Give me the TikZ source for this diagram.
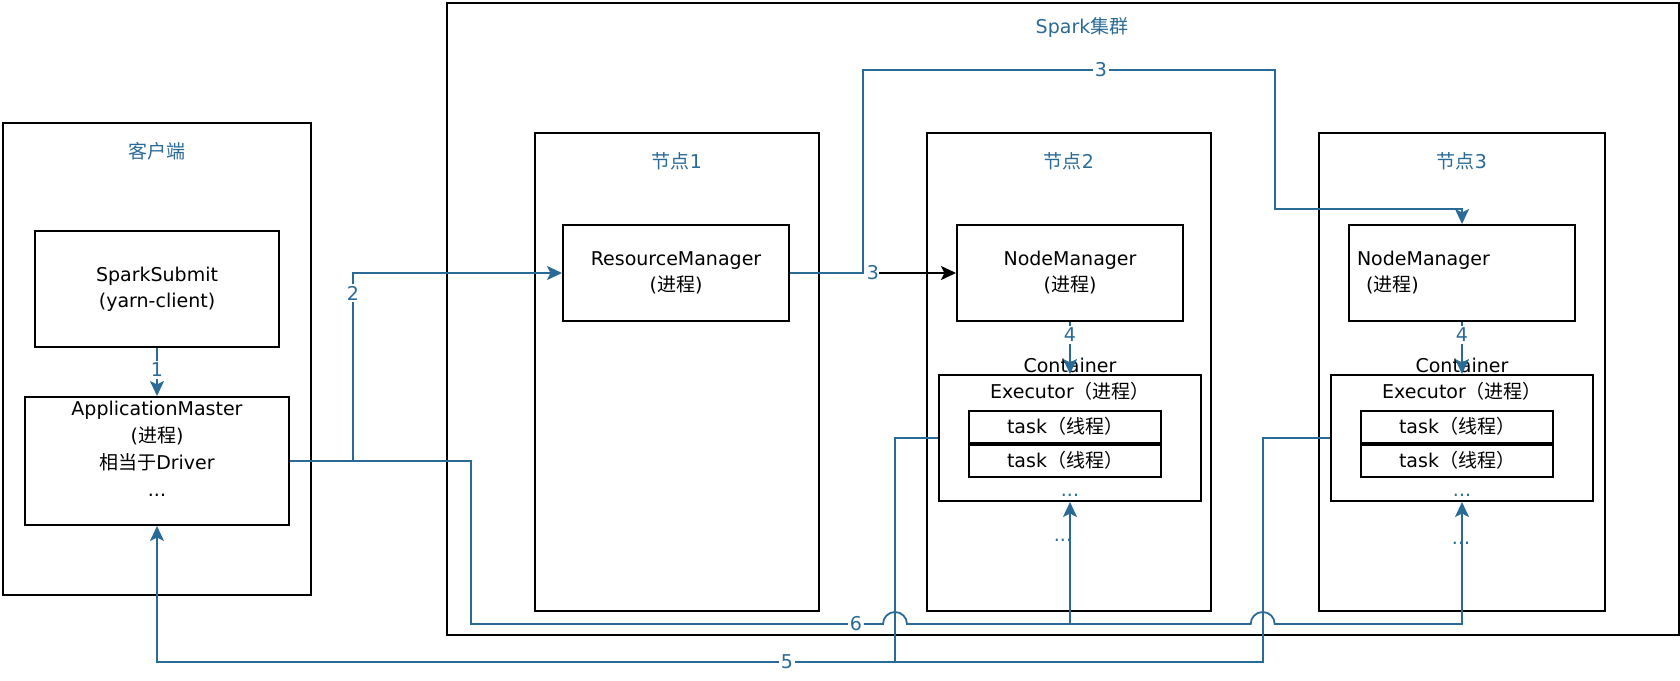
\documentclass[tikz,border=0pt]{standalone}
\usepackage{fontspec}
\setmainfont{DejaVu Sans}
\newfontfamily\cjk{Noto Sans CJK SC}
\newcommand\zh[1]{{\cjk #1}}
\usetikzlibrary{arrows.meta}
\definecolor{spblue}{RGB}{42,106,150}
\tikzset{
  box/.style={draw, line width=2pt, inner sep=0pt, align=center},
  lbl/.style={text=spblue},
  num/.style={text=spblue, fill=white, inner sep=1.5pt},
  flow/.style={draw=spblue, line width=1.8pt},
  arw/.style={-{Stealth[length=15pt,width=14pt,inset=3.5pt]}}
}
\begin{document}
\begin{tikzpicture}[x=1pt, y=-1pt, every node/.style={font=\fontsize{19}{26}\selectfont}]
  \useasboundingbox (0,0) rectangle (1680,680);
  % client and cluster
  \node[box, minimum width=308pt, minimum height=472pt] (client) at (157,359) {};
  \node[box, minimum width=1232pt, minimum height=632pt] (cluster) at (1063,319) {};
  \node[lbl] (clientlbl) at (157,151) {\zh{客户端}};
  \node[lbl] (clusterlbl) at (1082,27) {Spark\zh{集群}};
  % worker nodes
  \node[box, minimum width=284pt, minimum height=478pt] (node1) at (677,372) {};
  \node[box, minimum width=284pt, minimum height=478pt] (node2) at (1069,372) {};
  \node[box, minimum width=286pt, minimum height=478pt] (node3) at (1462,372) {};
  \node[lbl] (node1lbl) at (677,161) {\zh{节点}1};
  \node[lbl] (node2lbl) at (1069,161) {\zh{节点}2};
  \node[lbl] (node3lbl) at (1462,161) {\zh{节点}3};
  % client side
  \node[box, minimum width=244pt, minimum height=116pt] (submit) at (157,289) {SparkSubmit\\(yarn-client)};
  \node[box, minimum width=264pt, minimum height=128pt] (am) at (157,461) {};
  \node[anchor=north, align=center, inner sep=0pt, font=\fontsize{19}{27}\selectfont] (amtext) at (157,401)
    {ApplicationMaster\\(\zh{进程})\\\zh{相当于}Driver\\...};
  % managers
  \node[box, minimum width=226pt, minimum height=96pt] (rm) at (676,273) {ResourceManager\\(\zh{进程})};
  \node[box, minimum width=226pt, minimum height=96pt] (nm2) at (1070,273) {NodeManager\\(\zh{进程})};
  \node[box, minimum width=226pt, minimum height=96pt, text width=210pt, align=left, inner xsep=8pt] (nm3) at (1462,273)
    {NodeManager\\\hspace*{9pt}(\zh{进程})};
  % executors
  \node (ctr2) at (1070,365) {Container};
  \node[box, minimum width=262pt, minimum height=126pt] (ex2) at (1070,438) {};
  \node (ex2lbl) at (1070,391) {Executor\zh{（进程）}};
  \node[box, minimum width=192pt, minimum height=32.5pt] (task2a) at (1065,426.75) {task\zh{（线程）}};
  \node[box, minimum width=192pt, minimum height=32.5pt] (task2b) at (1065,460.75) {task\zh{（线程）}};
  \node[lbl] (ex2dots) at (1070,495) {...};
  \node[lbl] (node2dots) at (1063,540) {...};
  \node (ctr3) at (1462,365) {Container};
  \node[box, minimum width=262pt, minimum height=126pt] (ex3) at (1462,438) {};
  \node (ex3lbl) at (1462,391) {Executor\zh{（进程）}};
  \node[box, minimum width=192pt, minimum height=32.5pt] (task3a) at (1457,426.75) {task\zh{（线程）}};
  \node[box, minimum width=192pt, minimum height=32.5pt] (task3b) at (1457,460.75) {task\zh{（线程）}};
  \node[lbl] (ex3dots) at (1462,495) {...};
  \node[lbl] (node3dots) at (1461,543) {...};
  % step numbers
  \node[num] (n1) at (157,370) {1};
  \node[num] (n2) at (353,293) {2};
  \node[num] (n3a) at (1101,70) {3};
  \node[num, inner sep=0pt] (n3b) at (873,273) {3};
  \node[num] (n4a) at (1070,335) {4};
  \node[num] (n4b) at (1462,335) {4};
  \node[num] (n5) at (787,662) {5};
  \node[num] (n6) at (856,624) {6};
  \begin{scope}[flow]
    \draw (submit) -- (n1);
    \draw[arw] (n1) -- (am);
    \draw (am.east) -| (n2);
    \draw[arw] (n2) |- (rm);
    \draw (rm) -- (862.7,273) |- (n3a);
    \draw[arw] (n3a) -| (1275,209) -| (nm3);
    \draw (nm2) -- (n4a);
    \draw[arw] (n4a) -- (ex2);
    \draw (nm3) -- (n4b);
    \draw[arw] (n4b) -- (ex3);
    \draw (ex2.west) -- (895,438) |- (n5);
    \draw (ex3.west) -- (1262.7,438) |- (895,662);
    \draw[arw] (n5) -| (am);
    \draw (am.east) -- (471,461) |- (n6);
    \draw[arw] (n6) -- (883,624) arc[start angle=180, end angle=360, radius=12]
      -- (1250.7,624) arc[start angle=180, end angle=360, radius=12]
      -- (ex3.south |- n6) -- (ex3);
    \draw[arw] (ex2.south |- n6) -- (ex2);
  \end{scope}
  \draw[arw, line width=1.8pt] (n3b) -- (nm2);
\end{tikzpicture}
\end{document}
